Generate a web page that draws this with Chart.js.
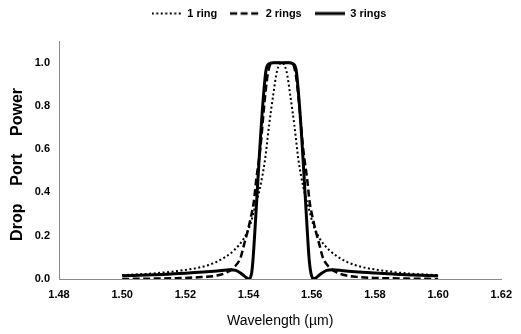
<!DOCTYPE html>
<html>
<head>
<meta charset="utf-8">
<script src="https://cdn.jsdelivr.net/npm/chart.js@4/dist/chart.umd.min.js"></script>
<style>
  html, body { margin: 0; padding: 0; background: #fff; }
  #wrap { width: 521px; height: 334px; }
</style>
</head>
<body>
<div id="wrap"><canvas id="c" width="521" height="334"></canvas></div>
<script>
// Series labels
const seriesNames = ["1 ring", "2 rings", "3 rings"];

// 1 ring (dotted)
const ring1Wavelength = [1.500, 1.510, 1.520, 1.525, 1.530, 1.5355, 1.5386, 1.5405, 1.542, 1.5436, 1.5452, 1.5465, 1.5478, 1.549, 1.5505, 1.552, 1.5532, 1.5545, 1.5558, 1.5574, 1.559, 1.5605, 1.5624, 1.5655, 1.571, 1.576, 1.581, 1.590, 1.600];
const ring1Power      = [0.018, 0.026, 0.042, 0.055, 0.080, 0.134, 0.190, 0.250, 0.330, 0.420, 0.550, 0.710, 0.850, 0.960, 1.000, 0.960, 0.850, 0.710, 0.550, 0.420, 0.330, 0.250, 0.190, 0.134, 0.080, 0.055, 0.042, 0.026, 0.018];

// 2 rings (dashed)
const ring2Wavelength = [1.500, 1.510, 1.520, 1.525, 1.530, 1.533, 1.5355, 1.5375, 1.5386, 1.5397, 1.5405, 1.5417, 1.5424, 1.5437, 1.5451, 1.546, 1.5467, 1.5476, 1.5505, 1.5534, 1.5543, 1.555, 1.5559, 1.5573, 1.5586, 1.5593, 1.5605, 1.5613, 1.5624, 1.5635, 1.5655, 1.568, 1.571, 1.575, 1.580, 1.590, 1.600];
const ring2Power      = [0.000, 0.002, 0.005, 0.009, 0.016, 0.030, 0.055, 0.100, 0.160, 0.220, 0.270, 0.360, 0.456, 0.600, 0.825, 0.940, 0.986, 1.000, 1.000, 1.000, 0.986, 0.940, 0.825, 0.600, 0.456, 0.360, 0.270, 0.220, 0.160, 0.100, 0.055, 0.030, 0.016, 0.009, 0.005, 0.002, 0.000];

// 3 rings (solid)
const ring3Wavelength = [1.500, 1.510, 1.520, 1.530, 1.534, 1.536, 1.538, 1.5395, 1.5402, 1.541, 1.5414, 1.5424, 1.5435, 1.5446, 1.5455, 1.5465, 1.548, 1.5503, 1.5526, 1.5541, 1.5551, 1.556, 1.5571, 1.5582, 1.5592, 1.5597, 1.5605, 1.5612, 1.5627, 1.5647, 1.5667, 1.570, 1.580, 1.590, 1.600];
const ring3Power      = [0.015, 0.020, 0.027, 0.037, 0.043, 0.040, 0.022, 0.004, 0.000, 0.030, 0.088, 0.318, 0.590, 0.825, 0.963, 0.995, 1.000, 1.000, 1.000, 0.995, 0.963, 0.825, 0.590, 0.318, 0.088, 0.030, 0.000, 0.004, 0.022, 0.040, 0.043, 0.038, 0.028, 0.020, 0.015];

// Axes
const xTickValues = [1.48, 1.50, 1.52, 1.54, 1.56, 1.58, 1.60, 1.62];
const yTickValues = [0.0, 0.2, 0.4, 0.6, 0.8, 1.0];
const xTitle = "Wavelength (µm)";
const yTitle = "Drop    Port    Power  ";

function pts(xs, ys) { return xs.map((x, i) => ({ x: x, y: ys[i] })); }

Chart.defaults.font.family = "'Liberation Sans', Arial, sans-serif";
Chart.defaults.color = "#000";

// legend line samples (dash styles of each series)
const lineStyles = [
  { width: 2, dash: [2, 2.5] },
  { width: 2.5, dash: [7, 3.5] },
  { width: 3, dash: [] }
];
function sampleCanvas(st) {
  const cv = document.createElement('canvas');
  cv.width = 30; cv.height = 6;
  const g = cv.getContext('2d');
  g.strokeStyle = '#000';
  g.lineWidth = st.width;
  g.setLineDash(st.dash);
  g.beginPath(); g.moveTo(0, 3); g.lineTo(30, 3); g.stroke();
  return cv;
}
const samples = lineStyles.map(sampleCanvas);

const legendSpacing = {
  id: 'legendSpacing',
  beforeInit(chart) {
    const fit = chart.legend.fit;
    chart.legend.fit = function () { fit.call(this); this.height += 7; };
  },
  afterLayout(chart) {
    chart.legend.left += 23;
    chart.legend.top -= 5;
  }
};

new Chart(document.getElementById('c'), {
  type: 'line',
  data: {
    datasets: [
      { label: seriesNames[0], data: pts(ring1Wavelength, ring1Power), borderColor: '#000', backgroundColor: '#000', borderWidth: lineStyles[0].width, borderDash: lineStyles[0].dash, pointRadius: 0, cubicInterpolationMode: 'monotone', order: 2 },
      { label: seriesNames[1], data: pts(ring2Wavelength, ring2Power), borderColor: '#000', backgroundColor: '#000', borderWidth: lineStyles[1].width, borderDash: lineStyles[1].dash, pointRadius: 0, cubicInterpolationMode: 'monotone', order: 1 },
      { label: seriesNames[2], data: pts(ring3Wavelength, ring3Power), borderColor: '#000', backgroundColor: '#000', borderWidth: lineStyles[2].width, pointRadius: 0, cubicInterpolationMode: 'monotone', order: 0 }
    ]
  },
  options: {
    responsive: false,
    animation: false,
    devicePixelRatio: 1,
    layout: { padding: { left: 8, right: 14, top: 0, bottom: 4 } },
    plugins: {
      tooltip: { enabled: false },
      legend: {
        position: 'top',
        labels: {
          font: { size: 11, weight: 'bold' },
          color: '#000',
          usePointStyle: true,
          pointStyleWidth: 30,
          boxHeight: 6,
          padding: 13,
          sort: (a, b) => a.datasetIndex - b.datasetIndex,
          generateLabels: (chart) => {
            const items = Chart.defaults.plugins.legend.labels.generateLabels(chart);
            items.forEach(it => { it.pointStyle = samples[it.datasetIndex]; });
            return items;
          }
        }
      }
    },
    scales: {
      x: {
        type: 'linear',
        min: 1.48,
        max: 1.62,
        afterBuildTicks: (s) => { s.ticks = xTickValues.map(v => ({ value: v })); },
        afterFit: (s) => { s.height = 51; },
        grid: { display: false, drawTicks: false },
        border: { display: true, color: '#8c8c8c', width: 1 },
        ticks: { padding: 9, font: { size: 11, weight: 'bold' }, color: '#000', maxRotation: 0, callback: (v) => v.toFixed(2) },
        title: { display: true, text: xTitle, font: { size: 14 }, color: '#000', padding: { top: 12, bottom: 0 } }
      },
      y: {
        type: 'linear',
        min: 0,
        max: 1.1,
        afterBuildTicks: (s) => { s.ticks = yTickValues.map(v => ({ value: v })); },
        afterFit: (s) => { s.width = 51; },
        grid: { display: false, drawTicks: false },
        border: { display: true, color: '#8c8c8c', width: 1 },
        ticks: { padding: 9, font: { size: 11, weight: 'bold' }, color: '#000', callback: (v) => v.toFixed(1) },
        title: { display: true, text: yTitle, font: { size: 16, weight: 'bold' }, color: '#000', padding: { top: 0, bottom: 9 } }
      }
    }
  },
  plugins: [legendSpacing]
});
</script>
</body>
</html>
